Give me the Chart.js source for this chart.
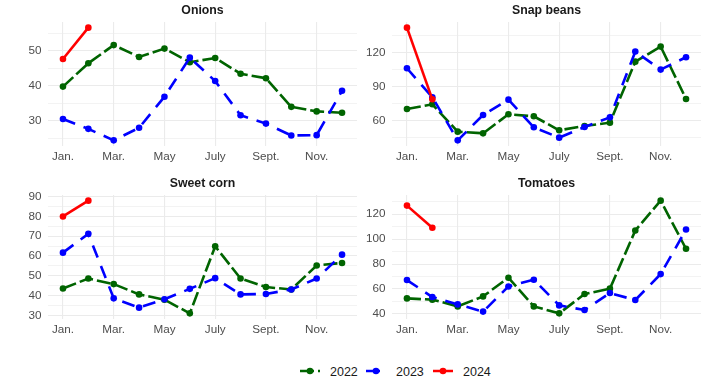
<!DOCTYPE html>
<html>
<head>
<meta charset="utf-8">
<script src="https://cdn.jsdelivr.net/npm/chart.js@4.4.1/dist/chart.umd.min.js"></script>
<style>
  body { margin: 0; background: #fff; }
  #wrap { position: relative; width: 725px; height: 392px; font-family: "Liberation Sans", Arial, sans-serif; }
  canvas { position: absolute; }
  #legend { position: absolute; left: 0; top: 361px; width: 725px; height: 20px; }
</style>
</head>
<body>
<div id="wrap">
  <canvas id="onions" width="362" height="170" style="left:0;top:0"></canvas>
  <canvas id="snap" width="363" height="170" style="left:362px;top:0"></canvas>
  <canvas id="corn" width="362" height="170" style="left:0;top:173px"></canvas>
  <canvas id="tom" width="363" height="170" style="left:362px;top:173px"></canvas>
  <svg id="legend" width="725" height="20">
    <line x1="300" y1="10" x2="320" y2="10" stroke="#006400" stroke-width="2.5" stroke-dasharray="14,4"/>
    <circle cx="310" cy="10" r="3.3" fill="#006400"/>
    <text x="330" y="14.5" font-size="12.5" fill="#1a1a1a" font-family="Liberation Sans, Arial">2022</text>
    <line x1="366" y1="10" x2="380" y2="10" stroke="#0000ff" stroke-width="2.5"/>
    <circle cx="376" cy="10" r="3.3" fill="#0000ff"/>
    <text x="396" y="14.5" font-size="12.5" fill="#1a1a1a" font-family="Liberation Sans, Arial">2023</text>
    <line x1="433" y1="10" x2="453" y2="10" stroke="#ff0000" stroke-width="2.5"/>
    <circle cx="443" cy="10" r="3.3" fill="#ff0000"/>
    <text x="463" y="14.5" font-size="12.5" fill="#1a1a1a" font-family="Liberation Sans, Arial">2024</text>
  </svg>
</div>
<script>
// month labels / positions
const months = ["Jan.", "Feb.", "Mar.", "Apr.", "May", "June", "July", "Aug.", "Sept.", "Oct.", "Nov.", "Dec."];
const monthTicks = [1, 3, 5, 7, 9, 11];

// Onions
const onions2022 = [39.8, 46.5, 51.7, 48.3, 50.7, 46.8, 48.0, 43.5, 42.2, 34.0, 32.7, 32.3];
const onions2023 = [30.5, 27.7, 24.4, 28.0, 36.9, 48.1, 41.4, 31.6, 29.2, 25.8, 25.9, 38.6];
const onions2024 = [47.7, 56.7];
const onionMajor = [30, 40, 50];
const onionMinor = [25, 35, 45, 55];

// Snap beans
const snap2022 = [70.3, 74.4, 50.3, 48.8, 65.6, 63.8, 51.5, 55.3, 58.2, 112.0, 125.3, 79.1];
const snap2023 = [106.2, 80.6, 42.6, 65.0, 78.5, 54.1, 45.0, 54.4, 62.9, 120.9, 105.0, 115.9];
const snap2024 = [142.0, 78.8];
const snapMajor = [60, 90, 120];
const snapMinor = [45, 75, 105, 135];

// Sweet corn
const corn2022 = [43.6, 48.6, 45.8, 40.6, 37.9, 31.0, 64.9, 48.6, 44.3, 43.1, 55.2, 56.5];
const corn2023 = [61.7, 71.2, 38.6, 33.9, 38.1, 43.4, 48.8, 40.6, 40.8, 43.1, 48.6, 60.7];
const corn2024 = [80.0, 88.0];
const cornMajor = [30, 40, 50, 60, 70, 80, 90];
const cornMinor = [35, 45, 55, 65, 75, 85];

// Tomatoes
const tom2022 = [52.5, 51.5, 46.1, 54.1, 69.1, 46.1, 40.5, 56.0, 60.3, 106.9, 130.9, 92.3];
const tom2023 = [67.2, 53.6, 47.7, 41.9, 62.1, 67.5, 46.9, 43.2, 56.8, 51.2, 72.0, 107.7];
const tom2024 = [126.9, 109.1];
const tomMajor = [40, 60, 80, 100, 120];
const tomMinor = [50, 70, 90, 110, 130];

const FONT = "'Liberation Sans', Arial, sans-serif";

const panelTitle = {
  id: "panelTitle",
  afterDraw(chart, args, opts) {
    const ctx = chart.ctx, a = chart.chartArea;
    ctx.save();
    ctx.font = "bold 12.3px " + FONT;
    ctx.fillStyle = "#1a1a1a";
    ctx.textAlign = "center";
    ctx.textBaseline = "middle";
    ctx.fillText(opts.text, (a.left + a.right) / 2, 11);
    ctx.restore();
  }
};

function pts(arr) {
  return arr.map((v, i) => ({ x: i + 1, y: v }));
}

function ds(label, arr, color, dash) {
  return {
    label: label,
    data: pts(arr),
    borderColor: color,
    backgroundColor: color,
    borderWidth: 2.6,
    borderDash: dash,
    pointRadius: 3.3,
    pointHoverRadius: 3.3,
    pointBorderWidth: 0,
    tension: 0
  };
}

function panel(id, title, s22, s23, s24, major, minor, yWidth, padRight) {
  const all = s22.concat(s23, s24);
  const lo = Math.min(...all), hi = Math.max(...all);
  const ext = (hi - lo) * 0.05;
  const yTicks = major.concat(minor).sort((a, b) => a - b);

  return new Chart(document.getElementById(id), {
    type: "line",
    data: {
      datasets: [
        ds("2024", s24, "#ff0000", []),
        ds("2023", s23, "#0000ff", [13, 9]),
        ds("2022", s22, "#006400", [14, 4])
      ]
    },
    plugins: [panelTitle],
    options: {
      responsive: false,
      devicePixelRatio: 1,
      animation: false,
      layout: { padding: { top: 22, right: padRight, left: 0, bottom: 0 } },
      plugins: {
        legend: { display: false },
        tooltip: { enabled: false },
        panelTitle: { text: title }
      },
      scales: {
        x: {
          type: "linear",
          min: 0.41,
          max: 12.59,
          afterBuildTicks: s => { s.ticks = monthTicks.map(v => ({ value: v })); },
          afterFit: s => { s.height = 24; },
          ticks: {
            callback: v => months[v - 1],
            color: "#4d4d4d",
            font: { family: FONT, size: 11.7 },
            padding: 4,
            maxRotation: 0,
            autoSkip: false
          },
          grid: { color: "#ebebeb", lineWidth: 1.1, drawTicks: false },
          border: { display: false }
        },
        y: {
          min: lo - ext,
          max: hi + ext,
          afterBuildTicks: s => { s.ticks = yTicks.map(v => ({ value: v })); },
          afterFit: s => { s.width = yWidth; },
          ticks: {
            callback: v => (major.includes(v) ? v : ""),
            color: "#4d4d4d",
            font: { family: FONT, size: 11.7 },
            padding: 6.5,
            autoSkip: false
          },
          grid: {
            color: "#ebebeb",
            lineWidth: c => (major.includes(c.tick.value) ? 1.1 : 0.6),
            drawTicks: false
          },
          border: { display: false }
        }
      }
    }
  });
}

panel("onions", "Onions", onions2022, onions2023, onions2024, onionMajor, onionMinor, 48, 5);
panel("snap", "Snap beans", snap2022, snap2023, snap2024, snapMajor, snapMinor, 30, 24);
panel("corn", "Sweet corn", corn2022, corn2023, corn2024, cornMajor, cornMinor, 48, 5);
panel("tom", "Tomatoes", tom2022, tom2023, tom2024, tomMajor, tomMinor, 30, 24);
</script>
</body>
</html>
